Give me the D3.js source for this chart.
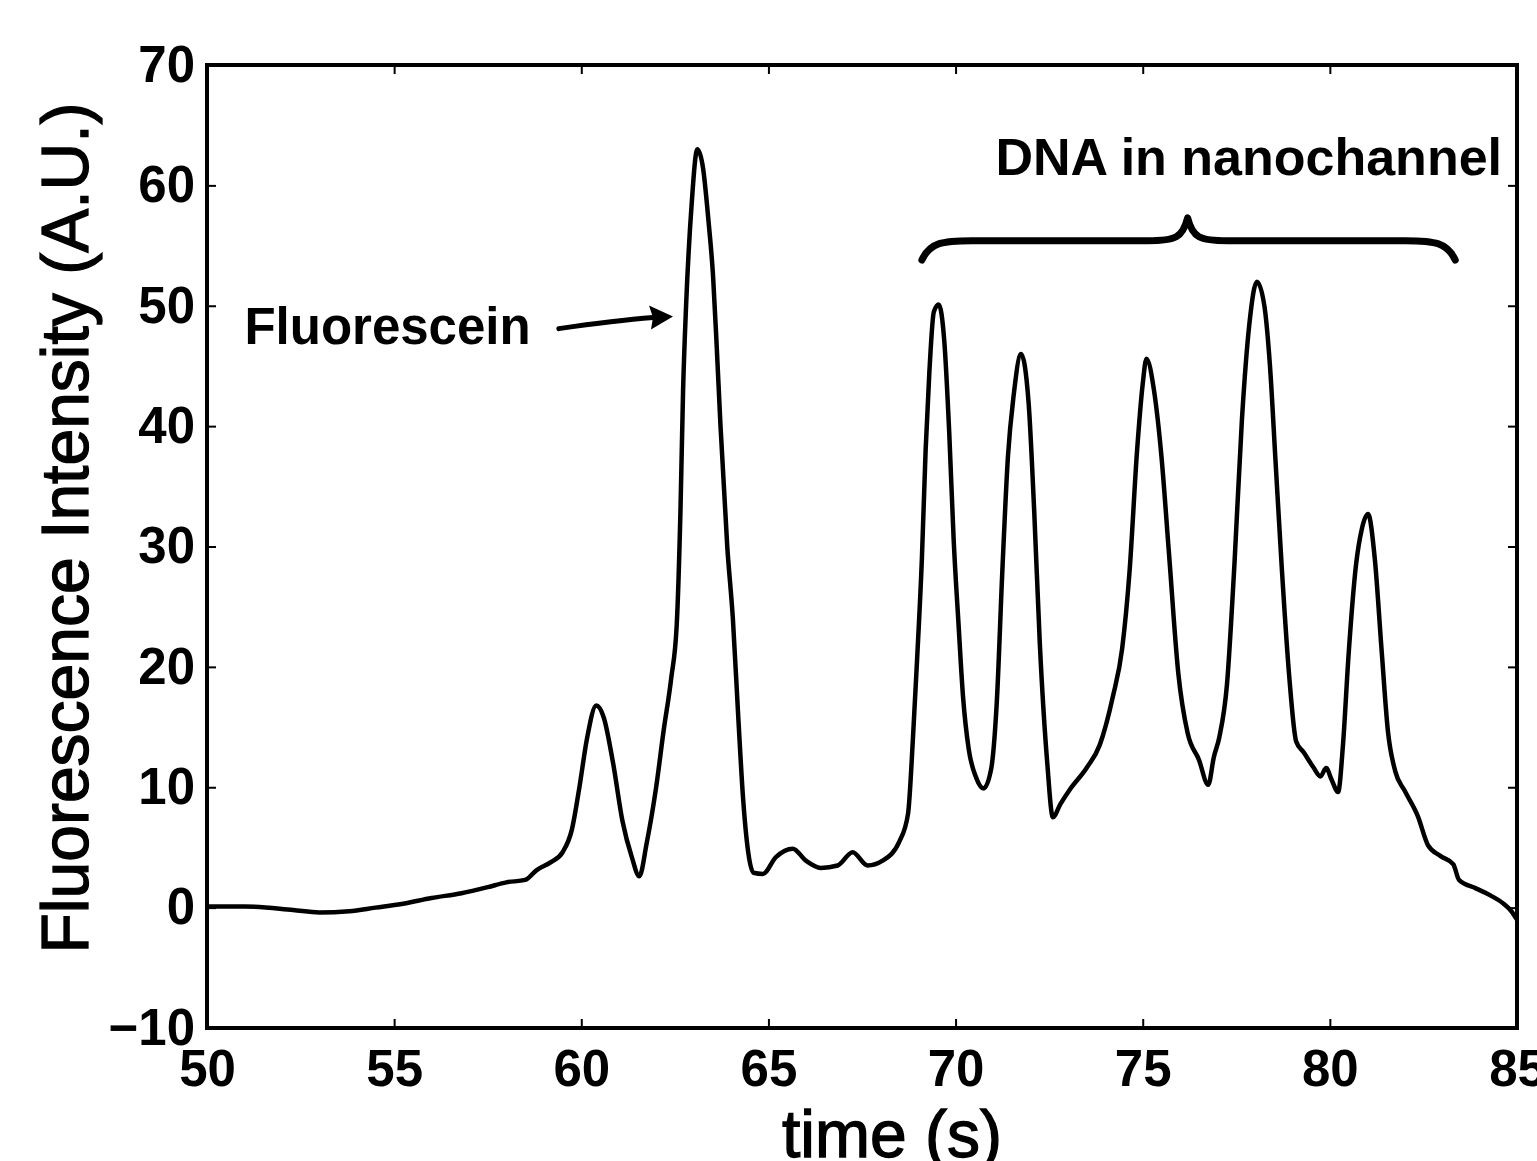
<!DOCTYPE html>
<html>
<head>
<meta charset="utf-8">
<script src="https://cdn.jsdelivr.net/npm/d3@7"></script>
<style>
  body { margin: 0; background: #fff; }
  text { font-family: "Liberation Sans", Arial, Helvetica, sans-serif; fill: #000; }
  .tick line { stroke: #000; stroke-width: 2px; }
  .tick text { font-size: 51px; font-weight: bold; }
  .axis-title { stroke: #000; stroke-width: 1.3px; }
</style>
</head>
<body>
<div id="chart"></div>
<script>
// time (s) of each sampled point
var times = [50.0, 51.0, 52.3, 53.0, 53.8, 54.5, 55.2, 56.0, 56.8, 57.5, 58.0, 58.5, 58.8, 59.2, 59.5,
  59.75, 59.95, 60.15, 60.4, 60.6, 60.85, 61.1, 61.35, 61.55, 61.75, 62.0, 62.2, 62.4, 62.55, 62.65,
  62.72, 62.8, 62.95, 63.1, 63.25, 63.4, 63.52, 63.62, 63.72, 63.9, 64.05, 64.2, 64.32, 64.46, 64.6,
  64.85, 65.2, 65.65, 66.0, 66.4, 66.85, 67.25, 67.65, 68.05, 68.5, 68.73, 68.86, 68.97, 69.1, 69.2,
  69.3, 69.42, 69.55, 69.7, 69.83, 69.95, 70.08, 70.2, 70.35, 70.55, 70.75, 70.95, 71.1, 71.25, 71.4,
  71.55, 71.75, 71.95, 72.1, 72.25, 72.45, 72.6, 72.8, 73.05, 73.5, 73.85, 74.2, 74.45, 74.65, 74.85,
  75.0, 75.1, 75.3, 75.5, 75.7, 75.95, 76.2, 76.5, 76.75, 76.9, 77.05, 77.25, 77.45, 77.65, 77.85,
  78.05, 78.25, 78.4, 78.55, 78.72, 78.92, 79.1, 79.3, 79.55, 79.75, 79.9, 80.05, 80.22, 80.35, 80.5,
  80.7, 80.85, 81.02, 81.2, 81.38, 81.55, 81.75, 82.0, 82.35, 82.62, 82.95, 83.3, 83.45, 83.9, 84.3,
  84.65, 84.85, 85.0];

// fluorescence intensity (A.U.) at each time
var intensity = [0.1, 0.1, -0.2, -0.4, -0.3, 0.0, 0.3, 0.8, 1.2, 1.7, 2.1, 2.3, 3.1, 3.8, 4.6,
  6.5, 10.0, 14.0, 16.8, 15.8, 12.0, 7.2, 4.2, 2.6, 5.4, 10.0, 14.7, 19.0, 23.5, 33.0,
  43.0, 50.0, 58.5, 63.0, 61.5, 57.0, 52.5, 46.5, 40.0, 30.0, 24.0, 15.5, 9.2, 4.6, 2.9,
  2.8, 4.2, 4.9, 3.9, 3.3, 3.5, 4.6, 3.5, 3.9, 5.5, 7.8, 14.0, 20.5, 29.0, 38.0,
  44.5, 49.5, 50.1, 47.0, 39.5, 30.5, 23.5, 17.5, 13.2, 10.8, 9.9, 11.5, 17.0, 28.0, 37.5,
  42.5, 46.0, 42.0, 33.0, 22.0, 12.0, 7.5, 8.6, 9.8, 11.6, 13.5, 17.5, 21.5, 28.0, 38.0,
  43.5, 45.6, 43.0, 37.5, 29.5, 19.5, 14.5, 12.3, 10.2, 12.5, 14.2, 18.5, 28.5, 40.5, 48.5,
  52.0, 50.0, 45.0, 37.0, 28.0, 19.0, 13.8, 12.9, 11.7, 10.9, 11.6, 10.6, 9.6, 13.5, 21.0,
  28.5, 31.4, 32.7, 29.0, 21.5, 14.7, 11.3, 9.7, 7.6, 5.2, 4.3, 3.6, 2.3, 1.6, 1.0,
  0.3, -0.3, -1.0];

// axis ticks
var xTicks = [50, 55, 60, 65, 70, 75, 80, 85];
var yTicks = [-10, 0, 10, 20, 30, 40, 50, 60, 70];

// annotations: brace over the DNA peaks (time from, middle, to; intensity of ends, bar, tip)
var braceTimes = [69.1, 76.2, 83.35];
var braceLevels = [53.8, 55.4, 57.3];
// arrow pointing at the fluorescein peak (start, end)
var arrowTimes = [59.4, 62.45];
var arrowLevels = [48.1, 49.1];

var svgWidth = 1537;
var svgHeight = 1161;
var margin = { top: 65, right: 20, bottom: 133, left: 207 };
var chartWidth = svgWidth - margin.left - margin.right;
var chartHeight = svgHeight - margin.top - margin.bottom;

var svg = d3.select("#chart")
  .append("svg")
  .attr("width", svgWidth)
  .attr("height", svgHeight);

var chartGroup = svg.append("g")
  .attr("transform", `translate(${margin.left}, ${margin.top})`);

var xScale = d3.scaleLinear().domain([50, 85]).range([0, chartWidth]);
var yScale = d3.scaleLinear().domain([-10, 70]).range([chartHeight, 0]);

// bottom and left axes with labels, ticks pointing inward
chartGroup.append("g")
  .attr("transform", `translate(0, ${chartHeight})`)
  .call(d3.axisBottom(xScale).tickValues(xTicks).tickSizeInner(-9).tickSizeOuter(0).tickPadding(22))
  .call(g => g.select(".domain").remove());

chartGroup.append("g")
  .call(d3.axisLeft(yScale).tickValues(yTicks).tickSizeInner(-9).tickSizeOuter(0).tickPadding(12)
    .tickFormat(d => d < 0 ? "\u2212" + Math.abs(d) : d))
  .call(g => g.select(".domain").remove());

// top and right axes, ticks only
chartGroup.append("g")
  .call(d3.axisTop(xScale).tickValues(xTicks).tickSizeInner(-9).tickSizeOuter(0).tickFormat(""))
  .call(g => g.select(".domain").remove());

chartGroup.append("g")
  .attr("transform", `translate(${chartWidth}, 0)`)
  .call(d3.axisRight(yScale).tickValues(yTicks).tickSizeInner(-9).tickSizeOuter(0).tickFormat(""))
  .call(g => g.select(".domain").remove());

// box around the plot
chartGroup.append("rect")
  .attr("width", chartWidth)
  .attr("height", chartHeight)
  .attr("fill", "none")
  .attr("stroke", "#000")
  .attr("stroke-width", 4);

// the trace
var points = times.map((t, i) => [t, intensity[i]]);
var line = d3.line()
  .x(d => xScale(d[0]))
  .y(d => yScale(d[1]))
  .curve(d3.curveMonotoneX);

chartGroup.append("path")
  .datum(points)
  .attr("d", line)
  .attr("fill", "none")
  .attr("stroke", "#000")
  .attr("stroke-width", 4.5)
  .attr("stroke-linejoin", "round");

// curly brace
var bx0 = xScale(braceTimes[0]), bxm = xScale(braceTimes[1]), bx1 = xScale(braceTimes[2]);
var byE = yScale(braceLevels[0]), byL = yScale(braceLevels[1]), byT = yScale(braceLevels[2]);
var bracePath = d3.path();
bracePath.moveTo(bx0, byE);
bracePath.bezierCurveTo(bx0 + 8, byL + 2, bx0 + 20, byL, bx0 + 50, byL);
bracePath.lineTo(bxm - 40, byL);
bracePath.bezierCurveTo(bxm - 12, byL, bxm - 5, byL - 3, bxm, byT);
bracePath.bezierCurveTo(bxm + 5, byL - 3, bxm + 12, byL, bxm + 40, byL);
bracePath.lineTo(bx1 - 50, byL);
bracePath.bezierCurveTo(bx1 - 20, byL, bx1 - 8, byL + 2, bx1, byE);

chartGroup.append("path")
  .attr("d", bracePath.toString())
  .attr("fill", "none")
  .attr("stroke", "#000")
  .attr("stroke-width", 7)
  .attr("stroke-linecap", "round")
  .attr("stroke-linejoin", "round");

chartGroup.append("text")
  .attr("x", xScale(84.6))
  .attr("y", yScale(60.9))
  .attr("text-anchor", "end")
  .style("font-size", "52px")
  .style("font-weight", "bold")
  .text("DNA in nanochannel");

// fluorescein label and arrow
chartGroup.append("text")
  .attr("x", xScale(51.0))
  .attr("y", yScale(46.8))
  .style("font-size", "51px")
  .style("font-weight", "bold")
  .text("Fluorescein");

var ax0 = xScale(arrowTimes[0]), ay0 = yScale(arrowLevels[0]);
var ax1 = xScale(arrowTimes[1]), ay1 = yScale(arrowLevels[1]);
chartGroup.append("path")
  .attr("d", `M${ax0},${ay0} Q${(ax0 + ax1) / 2},${ay0 - 8} ${ax1 - 20},${ay1 + 1}`)
  .attr("fill", "none")
  .attr("stroke", "#000")
  .attr("stroke-width", 5)
  .attr("stroke-linecap", "round");

chartGroup.append("path")
  .attr("d", `M${ax1},${ay1} L${ax1 - 24},${ay1 - 11} L${ax1 - 20},${ay1 + 1} L${ax1 - 22},${ay1 + 13} Z`)
  .attr("fill", "#000");

// axis titles
svg.append("text")
  .attr("class", "axis-title")
  .attr("x", 892)
  .attr("y", 1157)
  .attr("text-anchor", "middle")
  .style("font-size", "66px")
  .text("time (s)");

svg.append("text")
  .attr("class", "axis-title")
  .attr("transform", "rotate(-90)")
  .attr("x", -528)
  .attr("y", 88)
  .attr("text-anchor", "middle")
  .style("font-size", "66px")
  .text("Fluorescence Intensity (A.U.)");
</script>
</body>
</html>
